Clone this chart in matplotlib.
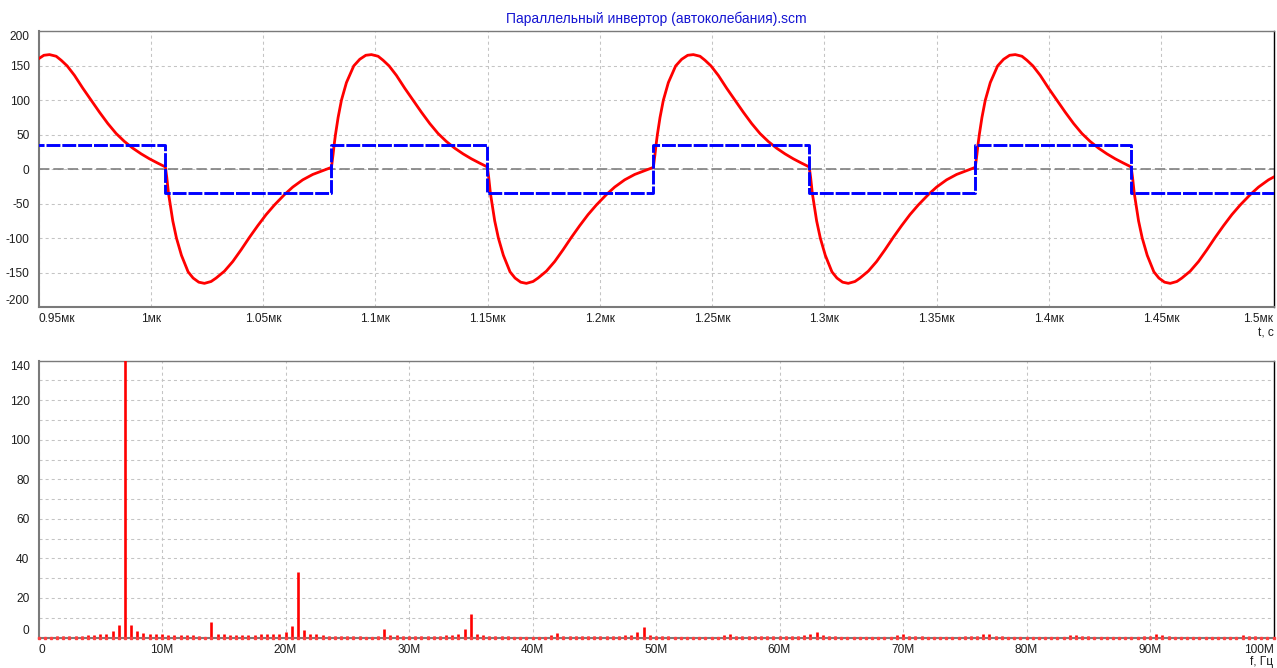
import numpy as np
import matplotlib
matplotlib.use("Agg")
import matplotlib.pyplot as plt

plt.rcParams['font.family'] = ['Liberation Sans', 'DejaVu Sans']
plt.rcParams['lines.scale_dashes'] = False

TITLE = "Параллельный инвертор (автоколебания).scm"

# ---------------- time domain data (t in µs) ----------------
fall_times = [0.86318, 1.00654, 1.14991, 1.29327, 1.43664]
rise_times = [0.93709, 1.08046, 1.22382, 1.36719]
square_level = 35.0

# red waveform after a falling edge (offset µs, value)
neg_tau = [0.0, 0.00059, 0.00134, 0.00208, 0.00326, 0.00490, 0.00712, 0.01009,
           0.01232, 0.01484, 0.01736, 0.02033, 0.02256, 0.02627, 0.02998, 0.03369,
           0.03740, 0.04111, 0.04482, 0.04853, 0.05298, 0.05669, 0.06114, 0.06559,
           0.07004, 0.07375]
neg_v = [2.4, -12, -34.8, -50, -75, -100, -125, -149,
         -158, -164, -165.7, -163, -158, -148, -134, -117,
         -99, -82, -66, -52, -37, -26, -15.5, -7.7,
         -2.2, 2.4]
# red waveform after a rising edge
pos_tau = [0.0, 0.00074, 0.00119, 0.00178, 0.00297, 0.00445, 0.00668, 0.00994,
           0.01261, 0.01529, 0.01781, 0.02078, 0.02300, 0.02567, 0.02894, 0.03265,
           0.03636, 0.04007, 0.04378, 0.04749, 0.05120, 0.05491, 0.05862, 0.06233,
           0.06604, 0.06930]
pos_v = [2.4, 21.7, 34.8, 49.8, 75, 100, 125.6, 149.8,
         159.4, 165.2, 166.2, 163.8, 158, 149.8, 136, 117.4,
         100, 82.6, 66.2, 51.7, 40.1, 30.4, 22.2, 15.0,
         8.7, 3.4]

top_xticks = [0.95, 1.0, 1.05, 1.1, 1.15, 1.2, 1.25, 1.3, 1.35, 1.4, 1.45, 1.5]
top_xlabels = ["0.95мк", "1мк", "1.05мк", "1.1мк", "1.15мк", "1.2мк", "1.25мк",
               "1.3мк", "1.35мк", "1.4мк", "1.45мк", "1.5мк"]
top_yticks = [-200, -150, -100, -50, 0, 50, 100, 150, 200]

# ---------------- spectrum data ----------------
f_step = 0.5e6
spec_amp = [
    0.2, 0.3, 0.4, 0.8, 0.8, 0.7, 0.7, 0.7, 1.2, 1.2, 1.7, 2.0, 3.5, 6.5,
    150.0,
    6.5, 3.5, 2.5, 2.0, 1.6, 1.6, 1.2, 1.2, 1.2, 1.2, 1.2, 0.7, 0.3,
    8.0,
    1.6, 1.7, 1.2, 1.2, 1.2, 1.2, 1.2, 1.7, 1.7, 1.7, 2.0, 3.0, 5.7,
    33.0,
    4.0, 2.0, 1.7, 1.2, 0.7, 0.7, 0.7, 0.7, 0.7, 0.7, 0.4, 0.4, 0.7,
    4.5,
    1.2, 1.2, 0.7, 0.7, 0.7, 0.7, 0.7, 0.7, 1.0, 1.2, 1.2, 2.0, 4.1,
    11.9,
    2.0, 1.2, 0.7, 0.7, 0.7, 0.7, 0.3, 0.3, 0.3, 0.2, 0.2, 0.3, 1.2,
    2.5,
    0.7, 0.7, 0.7, 0.7, 0.7, 0.7, 0.7, 0.7, 0.7, 0.7, 1.2, 1.2, 3.0,
    5.3,
    1.5, 0.7, 0.7, 0.7, 0.3, 0.3, 0.3, 0.3, 0.3, 0.3, 0.3, 0.3, 1.2,
    2.0,
    0.7, 0.7, 0.7, 0.7, 0.7, 0.7, 0.7, 0.7, 0.7, 0.7, 0.7, 1.2, 2.0,
    3.0,
    1.2, 0.7, 0.7, 0.3, 0.3, 0.3, 0.3, 0.3, 0.3, 0.3, 0.3, 0.3, 1.2,
    1.7,
    0.7, 0.7, 0.7, 0.3, 0.3, 0.3, 0.3, 0.3, 0.3, 0.7, 0.7, 0.7, 1.7,
    1.7,
    0.7, 0.7, 0.3, 0.3, 0.3, 0.3, 0.3, 0.3, 0.3, 0.3, 0.3, 0.3, 1.2,
    1.2,
    0.7, 0.7, 0.3, 0.3, 0.3, 0.3, 0.3, 0.3, 0.3, 0.3, 0.7, 0.7, 1.7,
    1.2,
    0.7, 0.3, 0.3, 0.3, 0.3, 0.3, 0.3, 0.3, 0.3, 0.3, 0.3, 0.3, 1.2,
    0.7,
    0.7, 0.3, 0.3, 0.3,
]
bot_xticks = [0, 10e6, 20e6, 30e6, 40e6, 50e6, 60e6, 70e6, 80e6, 90e6, 100e6]
bot_xlabels = ["0", "10M", "20M", "30M", "40M", "50M", "60M", "70M", "80M", "90M", "100M"]
bot_yticks = [0, 20, 40, 60, 80, 100, 120, 140]

# ---------------- build traces ----------------
edges = sorted([(t, 'f') for t in fall_times] + [(t, 'r') for t in rise_times])
red_t, red_v = [], []
for i, (t0, kind) in enumerate(edges):
    t_next = edges[i + 1][0] if i + 1 < len(edges) else 10.0
    taus, vals = (neg_tau, neg_v) if kind == 'f' else (pos_tau, pos_v)
    for tau, v in zip(taus, vals):
        if t0 + tau < t_next - 1e-6 or i + 1 == len(edges):
            red_t.append(t0 + tau)
            red_v.append(v)

sq_t = [e[0] for e in edges] + [1.6]
sq_v = [(-square_level if k == 'f' else square_level) for _, k in edges]
sq_v = sq_v + [sq_v[-1]]

W, H = 1277, 668
fig = plt.figure(figsize=(W / 100, H / 100), dpi=100)
fig.patch.set_facecolor('white')

L, R = 38.5, 1273.5
ax1 = fig.add_axes([L / W, (H - 307) / H, (R - L) / W, (307 - 31.3) / H])
ax2 = fig.add_axes([L / W, (H - 637.5) / H, (R - L) / W, (637.5 - 360.7) / H])

GRID = dict(color='#c4c4c4', linewidth=0.75, dashes=(2.2, 2.2))
TXT = '#1e1e1e'
FS = 8.6


def style(ax):
    ax.set_axisbelow(True)
    ax.tick_params(length=0, labelsize=FS, colors=TXT)
    ax.tick_params(axis='y', pad=6.5)
    ax.tick_params(axis='x', pad=4.5)
    ax.spines['left'].set_color('#7a7a7a')
    ax.spines['left'].set_linewidth(1.5)
    ax.spines['bottom'].set_color('#7a7a7a')
    ax.spines['bottom'].set_linewidth(1.5)
    ax.spines['top'].set_color('#7a7a7a')
    ax.spines['top'].set_linewidth(1.0)
    ax.spines['right'].set_color('#000000')
    ax.spines['right'].set_linewidth(1.0)


# ---- top chart ----
style(ax1)
ax1.set_xlim(0.95, 1.5)
ax1.set_ylim(-200, 200)
ax1.set_xticks(top_xticks)
ax1.set_xticklabels(top_xlabels)
ax1.set_yticks(top_yticks)
ax1.set_yticklabels([str(v) for v in top_yticks])
ax1.grid(True, **GRID)
ax1.axhline(0, color='#7f7f7f', linewidth=1.2, dashes=(7.5, 2.8), zorder=2)
ax1.plot(red_t, red_v, color='#ff0000', linewidth=2.0, zorder=3,
         solid_joinstyle='round', solid_capstyle='round')
ax1.step(sq_t, sq_v, where='post', color='#0000ff', linewidth=2.1,
         dashes=(10, 1.4), zorder=4)
xl = ax1.get_xticklabels()
xl[0].set_ha('left')
xl[-1].set_ha('right')
yl = ax1.get_yticklabels()
yl[0].set_va('bottom')
yl[-1].set_va('top')

# ---- bottom chart ----
style(ax2)
freqs = np.arange(len(spec_amp)) * f_step
ax2.set_xlim(0, 100e6)
ax2.set_ylim(0, 140)
ax2.set_xticks(bot_xticks)
ax2.set_xticklabels(bot_xlabels)
ax2.set_yticks(bot_yticks)
ax2.set_yticklabels([str(v) for v in bot_yticks])
ax2.set_yticks(np.arange(10, 140, 20), minor=True)
ax2.tick_params(which='minor', length=0)
ax2.grid(True, which='both', **GRID)
ax2.vlines(freqs, 0, spec_amp, color='#ff0000', linewidth=1.9, zorder=3,
           capstyle='butt')
ax2.plot(freqs, np.zeros(len(freqs)), linestyle='none', marker='s',
         markersize=1.6, color='#ff4040', zorder=3, clip_on=False)
xl = ax2.get_xticklabels()
xl[0].set_ha('left')
xl[-1].set_ha('right')
yl = ax2.get_yticklabels()
yl[0].set_va('bottom')
yl[-1].set_va('top')

# ---- texts ----
fig.text((L + R) / 2 / W, 1 - 18.5 / H, TITLE, ha='center', va='center',
         fontsize=10.0, color='#1414d2')
fig.text(R / W, 1 - 333 / H, "t, c", ha='right', va='center', fontsize=FS, color=TXT)
fig.text(R / W, 1 - 662 / H, "f, Гц", ha='right', va='center', fontsize=FS, color=TXT)

fig.savefig("out.png", dpi=100, facecolor='white')
